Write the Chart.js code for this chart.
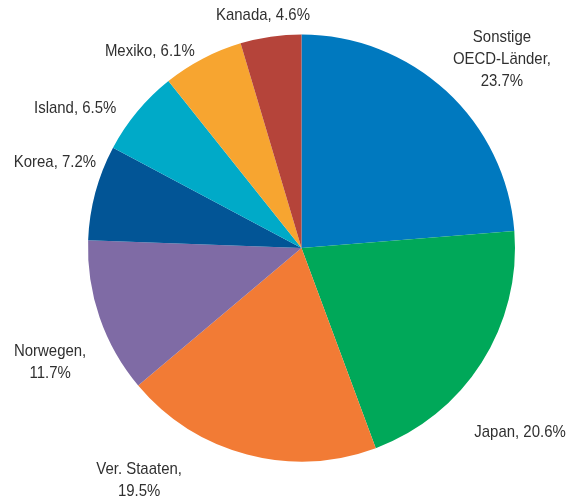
<!DOCTYPE html>
<html>
<head>
<meta charset="utf-8">
<script src="https://cdn.jsdelivr.net/npm/chart.js@4/dist/chart.umd.min.js"></script>
<style>
html,body{margin:0;padding:0;background:#fff;}
#wrap{width:576px;height:499px;}
</style>
</head>
<body>
<div id="wrap"><canvas id="c" width="576" height="499"></canvas></div>
<script>
const categories = ["Sonstige OECD-Länder", "Japan", "Ver. Staaten", "Norwegen", "Korea", "Island", "Mexiko", "Kanada"];
const values = [23.7, 20.6, 19.5, 11.7, 7.2, 6.5, 6.1, 4.6];
const labelLines = [
  ["Sonstige", "OECD-Länder,", "23.7%"],
  ["Japan, 20.6%"],
  ["Ver. Staaten,", "19.5%"],
  ["Norwegen,", "11.7%"],
  ["Korea, 7.2%"],
  ["Island, 6.5%"],
  ["Mexiko, 6.1%"],
  ["Kanada, 4.6%"]
];
const colors = ["#0079bf", "#00a859", "#f27b35", "#7f6ba5", "#025596", "#00aac8", "#f7a530", "#b5443a"];

// label placement: [angle clockwise from top (deg), distance as factor of radius]
const placement = [[46.7,1.290],[130.1,1.338],[215,1.326],[245.6,1.293],[289.2,1.223],[301.7,1.246],[322.3,1.162],[350.6,1.105]];

const labelPlugin = {
  id: 'outerLabels',
  afterDraw(chart) {
    const ctx = chart.ctx;
    const meta = chart.getDatasetMeta(0);
    const sx = 0.88;
    ctx.save();
    ctx.font = '17px "Liberation Sans Narrow", "Arial Narrow", "Liberation Sans", Arial, sans-serif';
    ctx.fillStyle = '#303030';
    ctx.textAlign = 'center';
    ctx.textBaseline = 'middle';
    meta.data.forEach((arc, i) => {
      const cx = arc.x, cy = arc.y, r = arc.outerRadius;
      const a = placement[i][0] * Math.PI / 180;
      const d = placement[i][1] * r;
      const x = cx + Math.sin(a) * d;
      const y = cy - Math.cos(a) * d;
      const lines = labelLines[i];
      const lh = 22;
      const y0 = y - (lines.length - 1) * lh / 2;
      lines.forEach((t, k) => {
        ctx.save();
        ctx.translate(x, y0 + k * lh);
        ctx.scale(sx, 1);
        ctx.fillText(t, 0, 0);
        ctx.restore();
      });
    });
    ctx.restore();
  }
};

new Chart(document.getElementById('c'), {
  type: 'pie',
  data: {
    labels: categories,
    datasets: [{ data: values, backgroundColor: colors, borderWidth: 0, hoverOffset: 0 }]
  },
  options: {
    responsive: false,
    animation: false,
    layout: { padding: { left: 88, right: 61, top: 34.5, bottom: 37.5 } },
    plugins: { legend: { display: false }, tooltip: { enabled: false } }
  },
  plugins: [labelPlugin]
});
</script>
</body>
</html>
